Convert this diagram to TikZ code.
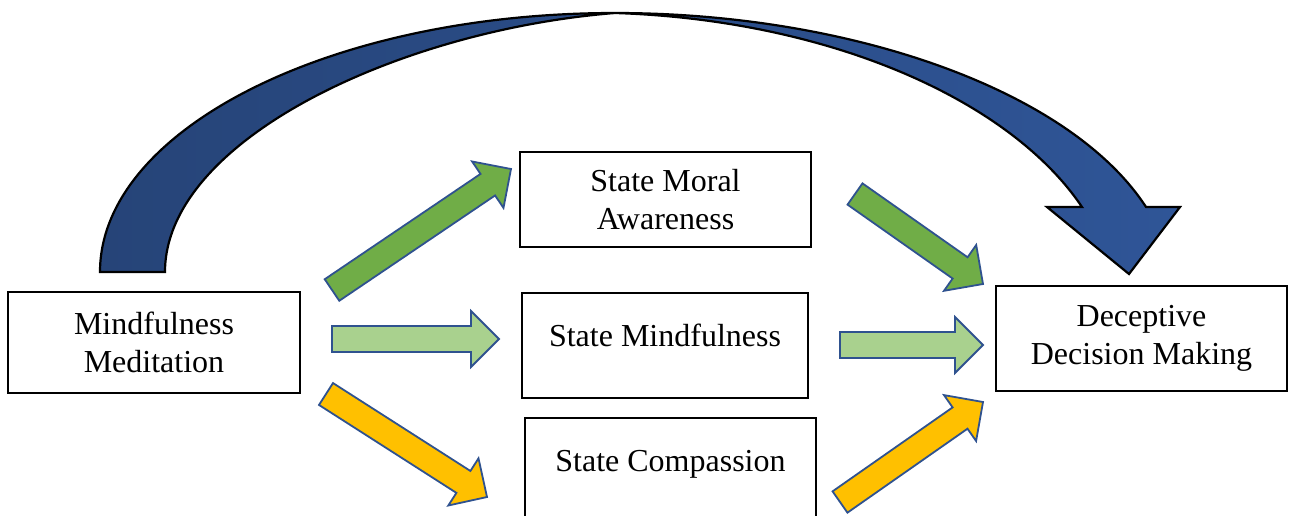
\documentclass[tikz,border=0pt]{standalone}
\usepackage{fontspec}
\setmainfont{Liberation Serif}
\usetikzlibrary{calc}

\definecolor{arcdark}{HTML}{264478}
\definecolor{arclight}{HTML}{2F5597}
\definecolor{rim}{HTML}{2F528F}
\definecolor{leaf}{HTML}{70AD47}
\definecolor{mint}{HTML}{A9D18E}
\definecolor{amber}{HTML}{FFC000}

\begin{document}
\begin{tikzpicture}[x=1pt, y=-1pt,
        box/.style={rectangle, draw, line width=2pt, inner sep=0pt, align=center,
            font=\fontsize{32}{38}\selectfont},
        oneline/.style={text height=24pt, text depth=23pt},
        blockarrow/.style={draw=rim, line width=1.8pt, fill=#1, to path={
            let \p1=($(\tikztotarget)-(\tikztostart)$), \n1={atan2(\y1,\x1)} in
            ($(\tikztostart)+(\n1+90:13pt)$)
            -- ($(\tikztotarget)+(\n1+180:28pt)+(\n1+90:13pt)$)
            -- ($(\tikztotarget)+(\n1+180:28pt)+(\n1+90:28pt)$)
            -- (\tikztotarget)
            -- ($(\tikztotarget)+(\n1+180:28pt)+(\n1-90:28pt)$)
            -- ($(\tikztotarget)+(\n1+180:28pt)+(\n1-90:13pt)$)
            -- ($(\tikztostart)+(\n1-90:13pt)$) -- cycle}}]
        \useasboundingbox (0,0) rectangle (1293,515);

        % the big curved arrow over the top
        \draw[line width=2.2pt, left color=arcdark, right color=arclight]
            (100,272) .. controls (100,130) and (330,13) .. (615,13)
            .. controls (850,13) and (1070,90) .. (1146,207)
            -- (1180,207) -- (1129,274) -- (1047,207) -- (1082,207)
            .. controls (1010,100) and (830,20) .. (615,13)
            .. controls (400,30) and (165,140) .. (165,272) -- cycle;

        \node[box, minimum width=292pt, minimum height=101pt] (med) at (154,342.5) {Mindfulness\\Meditation};
        \node[box, minimum width=291pt, minimum height=95pt] (moral) at (665.5,199.5) {State Moral\\Awareness};
        \node[box, oneline, minimum width=286pt, minimum height=105pt] (smind) at (665,345.5) {State Mindfulness};
        \node[box, oneline, minimum width=291pt, minimum height=105pt] (comp) at (670.5,470.5) {State Compassion};
        \node[box, minimum width=291pt, minimum height=105pt] (dec) at (1141.5,338.5) {Deceptive\\Decision Making};

        % arrow ends
        \coordinate (ga) at (332,290);
        \coordinate (gb) at (511,169);
        \coordinate (gc) at (855,194);
        \coordinate (gd) at (983,284);
        \coordinate (la) at (332,339);
        \coordinate (lb) at (499,339);
        \coordinate (lc) at (840,345);
        \coordinate (ld) at (983,345);
        \coordinate (ya) at (326,394);
        \coordinate (yb) at (487,497);
        \coordinate (yc) at (840,502);
        \coordinate (yd) at (983,402);

        \draw[blockarrow=leaf] (ga) to (gb);
        \draw[blockarrow=leaf] (gc) to (gd);
        \draw[blockarrow=mint] (la) to (lb);
        \draw[blockarrow=mint] (lc) to (ld);
        \draw[blockarrow=amber] (ya) to (yb);
        \draw[blockarrow=amber] (yc) to (yd);
    \end{tikzpicture}
\end{document}
